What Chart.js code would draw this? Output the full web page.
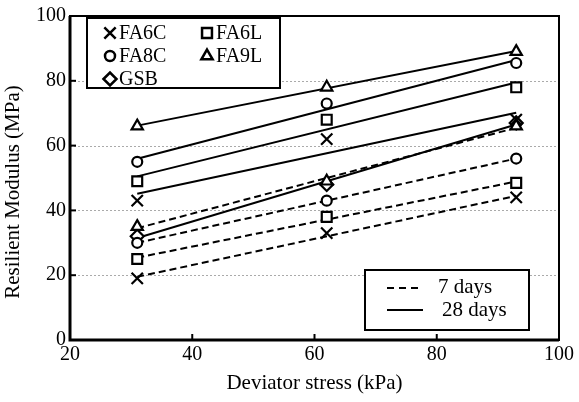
<!DOCTYPE html>
<html>
<head>
<meta charset="utf-8">
<script src="https://cdn.jsdelivr.net/npm/chart.js@4.4.0/dist/chart.umd.min.js"></script>
<style>
  html, body { margin: 0; padding: 0; background: #fff; }
  #wrap { width: 579px; height: 402px; }
</style>
</head>
<body>
<div id="wrap"><canvas id="chart" width="579" height="402"></canvas></div>
<script>
// deviator stress levels (kPa)
const stress = [31, 62, 93];

// resilient modulus (MPa), 7 days curing
const fa6c7 = [19, 33, 44];
const fa6l7 = [25, 38, 48.5];
const fa8c7 = [30, 43, 56];
const fa9l7 = [35, 49, 66];

// resilient modulus (MPa), 28 days curing
const fa6c28 = [43, 62, 68];
const fa6l28 = [49, 68, 78];
const fa8c28 = [55, 73, 85.5];
const fa9l28 = [66, 78, 89];
const gsb = [32, 48, 67];

const FONT = '"Liberation Serif", "Times New Roman", serif';

// least squares trend line through a series, sampled at first and last stress
function trend(ys) {
    const n = stress.length;
    const mx = stress.reduce((a, b) => a + b, 0) / n;
    const my = ys.reduce((a, b) => a + b, 0) / n;
    let sxy = 0, sxx = 0;
    stress.forEach((x, i) => { sxy += (x - mx) * (ys[i] - my); sxx += (x - mx) * (x - mx); });
    const b = sxy / sxx;
    const a = my - b * mx;
    const x0 = stress[0], x1 = stress[n - 1];
    return [{ x: x0, y: a + b * x0 }, { x: x1, y: a + b * x1 }];
}

function pts(ys) {
    return stress.map((x, i) => ({ x: x, y: ys[i] }));
}

const markers = {
    crossRot: 8, rect: 7, circle: 5, triangle: 6.5, rectRot: 6.5
};

function markerSet(label, ys, style) {
    return {
        type: 'scatter',
        label: label,
        data: pts(ys),
        pointStyle: style,
        pointRadius: markers[style],
        pointHoverRadius: markers[style],
        pointBackgroundColor: '#fff',
        pointBorderColor: '#000',
        pointBorderWidth: 2.2,
        showLine: false,
        order: 1
    };
}

function lineSet(ys, dashed) {
    return {
        type: 'line',
        data: trend(ys),
        borderColor: '#000',
        borderWidth: 2,
        borderDash: dashed ? [7, 4] : [],
        pointRadius: 0,
        fill: false,
        order: 2
    };
}

const datasets = [
    lineSet(fa6c7, true), lineSet(fa6l7, true), lineSet(fa8c7, true), lineSet(fa9l7, true),
    lineSet(fa6c28, false), lineSet(fa6l28, false), lineSet(fa8c28, false), lineSet(fa9l28, false),
    lineSet(gsb, false),
    markerSet('FA6C', fa6c7, 'crossRot'), markerSet('FA6L', fa6l7, 'rect'),
    markerSet('FA8C', fa8c7, 'circle'), markerSet('FA9L', fa9l7, 'triangle'),
    markerSet('FA6C', fa6c28, 'crossRot'), markerSet('FA6L', fa6l28, 'rect'),
    markerSet('FA8C', fa8c28, 'circle'), markerSet('FA9L', fa9l28, 'triangle'),
    markerSet('GSB', gsb, 'rectRot')
];

// frame, dotted grid, inward ticks
const framePlugin = {
    id: 'frame',
    beforeDatasetsDraw(chart) {
        const { ctx, chartArea: a, scales: { x, y } } = chart;
        ctx.save();
        ctx.strokeStyle = '#aaa';
        ctx.lineWidth = 1;
        ctx.setLineDash([2, 2]);
        [20, 40, 60, 80].forEach(v => {
            const py = Math.round(y.getPixelForValue(v)) + 0.5;
            ctx.beginPath(); ctx.moveTo(a.left, py); ctx.lineTo(a.right, py); ctx.stroke();
        });
        ctx.restore();
    },
    afterDatasetsDraw(chart) {
        const { ctx, chartArea: a, scales: { x, y } } = chart;
        ctx.save();
        ctx.strokeStyle = '#000';
        ctx.lineWidth = 2;
        ctx.strokeRect(a.left, a.top, a.right - a.left, a.bottom - a.top);
        ctx.lineWidth = 3;
        ctx.beginPath();
        ctx.moveTo(a.left, a.top); ctx.lineTo(a.left, a.bottom); ctx.lineTo(a.right, a.bottom);
        ctx.stroke();
        ctx.lineWidth = 2;
        [40, 60, 80].forEach(v => {
            const px = x.getPixelForValue(v);
            ctx.beginPath(); ctx.moveTo(px, a.bottom); ctx.lineTo(px, a.bottom - 6); ctx.stroke();
        });
        [20, 40, 60, 80].forEach(v => {
            const py = y.getPixelForValue(v);
            ctx.beginPath(); ctx.moveTo(a.left, py); ctx.lineTo(a.left + 6, py); ctx.stroke();
        });
        // y axis title
        ctx.fillStyle = '#000';
        ctx.font = '21px ' + FONT;
        ctx.textAlign = 'center';
        ctx.textBaseline = 'middle';
        ctx.translate(13, 192);
        ctx.rotate(-Math.PI / 2);
        ctx.fillText('Resilient Modulus (MPa)', 0, 0);
        ctx.restore();
    }
};

function drawMarker(ctx, style, cx, cy) {
    Chart.helpers.drawPoint(ctx, { pointStyle: style, radius: markers[style], borderWidth: 2.5 }, cx, cy);
}

// two legend boxes drawn inside the plot
const legendPlugin = {
    id: 'boxes',
    afterDraw(chart) {
        const ctx = chart.ctx;
        ctx.save();
        ctx.fillStyle = '#fff';
        ctx.strokeStyle = '#000';
        ctx.lineWidth = 2;
        ctx.fillRect(87, 18, 193, 70);
        ctx.strokeRect(87, 18, 193, 70);

        ctx.font = '20px ' + FONT;
        ctx.textBaseline = 'middle';
        ctx.textAlign = 'left';
        const items = [
            ['FA6C', 'crossRot', 0, 0], ['FA6L', 'rect', 1, 0],
            ['FA8C', 'circle', 0, 1], ['FA9L', 'triangle', 1, 1],
            ['GSB', 'rectRot', 0, 2]
        ];
        items.forEach(([txt, st, c, r]) => {
            const mx = c === 0 ? 110 : 207;
            const my = 33 + r * 23;
            ctx.fillStyle = '#fff';
            ctx.strokeStyle = '#000';
            ctx.lineWidth = 2.5;
            drawMarker(ctx, st, mx, my);
            ctx.fillStyle = '#000';
            ctx.fillText(txt, mx + 9, my + 1);
        });

        ctx.fillStyle = '#fff';
        ctx.strokeStyle = '#000';
        ctx.lineWidth = 2;
        ctx.fillRect(365, 270, 164, 60);
        ctx.strokeRect(365, 270, 164, 60);
        ctx.lineWidth = 2;
        ctx.setLineDash([7, 5]);
        ctx.beginPath(); ctx.moveTo(387, 288); ctx.lineTo(423, 288); ctx.stroke();
        ctx.setLineDash([]);
        ctx.beginPath(); ctx.moveTo(387, 310); ctx.lineTo(423, 310); ctx.stroke();
        ctx.fillStyle = '#000';
        ctx.font = '21px ' + FONT;
        ctx.fillText('7 days', 438, 287);
        ctx.fillText('28 days', 442, 310);
        ctx.restore();
    }
};

const ctx = document.getElementById('chart').getContext('2d');
new Chart(ctx, {
    data: { datasets: datasets },
    options: {
        responsive: false,
        animation: false,
        events: [],
        layout: { padding: { left: 0, right: 20, top: 15, bottom: 0 } },
        plugins: { legend: { display: false }, tooltip: { enabled: false } },
        scales: {
            x: {
                type: 'linear',
                min: 20, max: 100,
                ticks: { stepSize: 20, color: '#000', font: { family: FONT, size: 20 }, padding: 3, maxRotation: 0 },
                grid: { display: false, drawTicks: false },
                border: { display: false },
                title: { display: true, text: 'Deviator stress (kPa)', color: '#000', font: { family: FONT, size: 21 }, padding: { top: 0, bottom: 6 } },
                afterFit(s) { s.height = 62; }
            },
            y: {
                type: 'linear',
                min: 0, max: 100,
                ticks: { stepSize: 20, color: '#000', font: { family: FONT, size: 20 }, padding: 4 },
                grid: { display: false, drawTicks: false },
                border: { display: false },
                afterFit(s) { s.width = 70; }
            }
        }
    },
    plugins: [framePlugin, legendPlugin]
});
</script>
</body>
</html>
